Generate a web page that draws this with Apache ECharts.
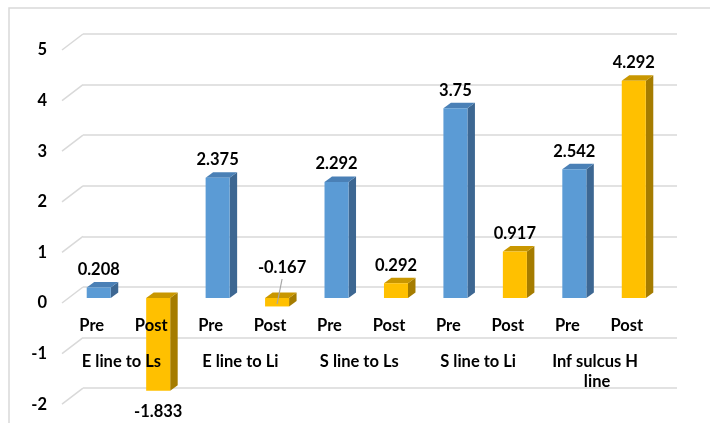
<!DOCTYPE html>
<html>
<head>
<meta charset="utf-8">
<script src="https://cdn.jsdelivr.net/npm/echarts@6/dist/echarts.min.js"></script>
<style>
html,body{margin:0;padding:0;background:#fff;}
#c{width:710px;height:423px;}
</style>
</head>
<body>
<div id="c"></div>
<script>
const categories = ['Pre','Post','Pre','Post','Pre','Post','Pre','Post','Pre','Post'];
const groups = ['E line to Ls','E line to Li','S line to Ls','S line to Li','Inf sulcus H line'];
const values = [0.208, -1.833, 2.375, -0.167, 2.292, 0.292, 3.75, 0.917, 2.542, 4.292];
const yMin = -2, yMax = 5, yStep = 1;

const FONT = 'Lato';
const FS = 16.5;
const colors = {
  Pre:  {front:'#5B9BD5', top:'#4A80B6', side:'#3D6792'},
  Post: {front:'#FFC000', top:'#C99700', side:'#A57C00'}
};
const DX = 7.5, DY = -5.5;
const H = 354.2;
const UNIT = H / (yMax - yMin);

const chart = echarts.init(document.getElementById('c'), null, {renderer:'canvas'});

const g = (o) => Object.assign({outerBoundsMode:'none', containLabel:false}, o);
const grids = [
  g({left:62, right:53.5, top:50, height:H}),        // front plane (y labels)
  g({left:69, right:46.5, top:45, height:H}),        // bar front faces
  g({left:83, right:33, top:34, height:H}),          // back wall
  g({left:62, right:53.5, top:50, height:UNIT*yMax}), // Pre/Post labels, bottom edge = front zero
  g({left:62, right:53.5, top:50, height:UNIT*yMax})  // group labels
];

const hiddenY = (gi) => ({type:'value', gridIndex:gi, min:yMin, max:yMax, interval:yStep, show:false,
  axisLabel:{show:false}, axisLine:{show:false}, axisTick:{show:false}, splitLine:{show:false}});
const hiddenX = (gi, d) => ({type:'category', gridIndex:gi, data:d, show:false});

const option = {
  animation:false,
  grid: grids,
  xAxis: [
    hiddenX(0, categories),
    hiddenX(1, categories),
    hiddenX(2, categories),
    {type:'category', gridIndex:3, data:categories, position:'bottom', z:20, axisTick:{show:false},
     axisLine:{show:false, onZero:false},
     axisLabel:{interval:0, margin:14, color:'#000', fontFamily:FONT, fontWeight:'bold', fontSize:FS}},
    {type:'category', gridIndex:4, data:groups, position:'bottom', z:20, axisTick:{show:false},
     axisLine:{show:false, onZero:false},
     axisLabel:{interval:0, margin:49, color:'#000', fontFamily:FONT, fontWeight:'bold', fontSize:FS,
       width:108, overflow:'break', lineHeight:20}}
  ],
  yAxis: [
    {type:'value', gridIndex:0, min:yMin, max:yMax, interval:yStep,
     axisLine:{show:false}, axisTick:{show:false}, splitLine:{show:false},
     axisLabel:{margin:15, color:'#000', fontFamily:FONT, fontWeight:'bold', fontSize:FS}},
    hiddenY(1),
    {type:'value', gridIndex:2, min:yMin, max:yMax, interval:yStep, z:0,
     axisLine:{show:false}, axisTick:{show:false}, axisLabel:{show:false},
     splitLine:{show:true, lineStyle:{color:'#d9d9d9', width:1.5}}},
    {type:'value', gridIndex:3, min:0, max:yMax, show:false},
    {type:'value', gridIndex:4, min:0, max:yMax, show:false}
  ],
  series: [{
    type:'custom',
    xAxisIndex:1, yAxisIndex:1,
    z:2,
    data: values.map((v,i)=>[i,v]),
    renderItem: function(params, api){
      const i = api.value(0), v = api.value(1);
      const base = api.coord([i, 0]);
      const end = api.coord([i, v]);
      const bw = api.size([1,0])[0]*0.404;
      const cx = base[0];
      const x0 = cx - bw/2, x1 = cx + bw/2;
      const yT = Math.min(base[1], end[1]), yB = Math.max(base[1], end[1]);
      const c = colors[categories[i]];
      const children = [
        {type:'polygon', shape:{points:[[x1,yT],[x1+DX,yT+DY],[x1+DX,yB+DY],[x1,yB]]}, style:{fill:c.side}},
        {type:'polygon', shape:{points:[[x0,yT],[x1,yT],[x1+DX,yT+DY],[x0+DX,yT+DY]]}, style:{fill:c.top}},
        {type:'rect', shape:{x:x0, y:yT, width:bw, height:yB-yT}, style:{fill:c.front}}
      ];
      const txt = String(v);
      const font = 'bold ' + FS + 'px ' + FONT;
      if (v >= 0) {
        children.push({type:'text', style:{text:txt, x:cx, y:yT+DY-4, align:'center', verticalAlign:'bottom', fill:'#000', font:font}});
      } else if (Math.abs(v) < 0.5) {
        // small negative: label lifted above with a leader line
        children.push({type:'line', shape:{x1:cx+5, y1:base[1]-19, x2:cx, y2:base[1]+6}, style:{stroke:'#a6a6a6', lineWidth:1.2}});
        children.push({type:'text', style:{text:txt, x:cx+5, y:base[1]-22, align:'center', verticalAlign:'bottom', fill:'#000', font:font}});
      } else {
        children.push({type:'text', style:{text:txt, x:cx, y:yB+12, align:'center', verticalAlign:'top', fill:'#000', font:font}});
      }
      return {type:'group', children:children};
    }
  }]
};
chart.setOption(option);

// perspective connectors from the front plane to the back wall + outer border
const gfx = [{type:'rect', shape:{x:9, y:8, width:760, height:500}, style:{fill:'none', stroke:'#d9d9d9', lineWidth:1.5}, silent:true}];
for (let v = yMin; v <= yMax; v += yStep) {
  const yf = chart.convertToPixel({yAxisIndex:0}, v);
  const yb = chart.convertToPixel({yAxisIndex:2}, v);
  gfx.push({type:'line', shape:{x1:grids[0].left, y1:yf, x2:grids[2].left, y2:yb}, style:{stroke:'#d9d9d9', lineWidth:1.5}, silent:true, z:0});
}
chart.setOption({graphic: gfx});
</script>
</body>
</html>
